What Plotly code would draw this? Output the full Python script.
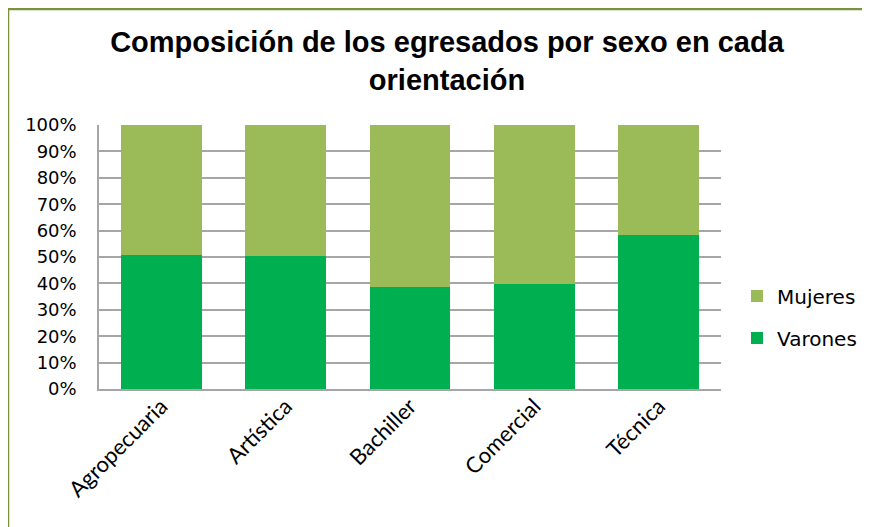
import plotly.graph_objects as go

categories = ["Agropecuaria", "Artística", "Bachiller", "Comercial", "Técnica"]
varones = [50.8, 50.3, 38.8, 39.8, 58.3]
mujeres = [49.2, 49.7, 61.2, 60.2, 41.7]
y_ticks = [0, 10, 20, 30, 40, 50, 60, 70, 80, 90, 100]
y_tick_labels = [f"{v}%" for v in y_ticks]

# the page body has an 8px margin; work in screen pixels and convert
OFF = 8
W, H = 870 - OFF, 527 - OFF
PLOT_L, PLOT_R, PLOT_T, PLOT_B = 99, 721, 125, 389  # screen pixels
L = PLOT_L - OFF
T = PLOT_T - OFF
R = W - (PLOT_R - OFF)
B = H - (PLOT_B - OFF)
pw, ph = W - L - R, H - T - B

def px_x(p):
    return (p - OFF - L) / pw

def px_y(p):
    return (H - B - (p - OFF)) / ph

fig = go.Figure()
fig.add_trace(go.Bar(x=categories, y=varones, name="Varones", marker_color="#00B050",
                     marker_line_width=0, legendrank=2, legendgroup="v"))
fig.add_trace(go.Bar(x=categories, y=mujeres, name="Mujeres", marker_color="#9BBB59",
                     marker_line_width=0, legendrank=1, legendgroup="m"))

border = dict(color="#77933C", width=2.5)

fig.update_layout(
    width=W, height=H,
    barmode="stack", bargap=0.35,
    margin=dict(l=L, r=R, t=T, b=B, autoexpand=False),
    paper_bgcolor="white", plot_bgcolor="white",
    title=dict(
        text="<b>Composición de los egresados por sexo en cada<br>orientación</b>",
        font=dict(family="Liberation Sans, Arial", size=29, color="black"),
        x=(447 - OFF) / W, xanchor="center",
        y=1 - 44 / H, yanchor="middle",
    ),
    font=dict(family="Lato", size=18, color="black"),
    legend=dict(
        x=px_x(737), y=px_y(317), xanchor="left", yanchor="middle",
        tracegroupgap=13, traceorder="grouped",
        font=dict(family="DejaVu Sans", size=20, color="black"),
        itemwidth=30,
    ),
    showlegend=True,
    shapes=[
        dict(type="line", xref="paper", yref="paper",
             x0=px_x(8), x1=px_x(880), y0=px_y(9), y1=px_y(9), line=border),
        dict(type="line", xref="paper", yref="paper",
             x0=px_x(8), x1=px_x(8), y0=px_y(9), y1=px_y(540), line=border),
    ],
)
fig.update_xaxes(
    automargin=False,
    tickangle=-45, showline=True, linecolor="#A6A6A6", linewidth=1.5,
    tickfont=dict(family="Lato", size=22, color="black"), ticks="",
    ticklabelstandoff=-6,
)
fig.update_yaxes(
    automargin=False,
    range=[0, 100], tickvals=y_ticks, ticktext=y_tick_labels,
    showgrid=True, gridcolor="#A6A6A6", gridwidth=1.5,
    showline=True, linecolor="#A6A6A6", linewidth=1.5,
    tickfont=dict(family="DejaVu Sans", size=18, color="black"), ticks="",
    ticklabelstandoff=17,
    zeroline=False,
)
fig.write_html("out.html")
